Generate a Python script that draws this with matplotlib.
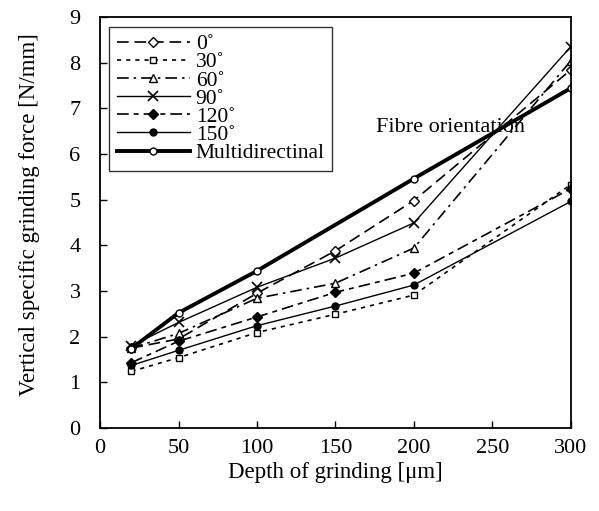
import matplotlib
matplotlib.use("Agg")
import matplotlib.pyplot as plt

x = [20, 50, 100, 150, 200, 300]
x_multi = [20, 50, 100, 200, 300]

deg0 = [1.75, 1.95, 2.95, 3.88, 4.98, 7.84]
deg30 = [1.24, 1.54, 2.09, 2.49, 2.91, 5.33]
deg60 = [1.75, 2.07, 2.84, 3.17, 3.94, 8.04]
deg90 = [1.80, 2.31, 3.08, 3.72, 4.49, 8.35]
deg120 = [1.43, 1.90, 2.43, 2.97, 3.39, 5.24]
deg150 = [1.37, 1.70, 2.24, 2.67, 3.13, 4.96]
multi = [1.74, 2.52, 3.44, 5.46, 7.44]

labels = ["0˚", "30˚", "60˚", "90˚", "120˚", "150˚", "Multidirectinal"]
xticks = [0, 50, 100, 150, 200, 250, 300]
yticks = [0, 1, 2, 3, 4, 5, 6, 7, 8, 9]

plt.rcParams['font.family'] = ['Liberation Serif', 'DejaVu Serif']

fig = plt.figure(figsize=(5.99, 5.11), dpi=100)
ax = fig.add_axes([0.167, 0.1624, 0.786, 0.8046])

k = dict(color='black', markeredgecolor='black')
ax.plot(x, deg0, linestyle=(0, (7, 3.5)), lw=1.2, marker='D', ms=5, mfc='white', label=labels[0], **k)
ax.plot(x, deg30, linestyle=(0, (2.5, 3)), lw=1.2, marker='s', ms=5, mfc='white', label=labels[1], **k)
ax.plot(x, deg60, linestyle=(0, (7, 3, 1.5, 3)), lw=1.2, marker='^', ms=6, mfc='white', label=labels[2], **k)
ax.plot(x, deg90, linestyle='-', lw=1.0, marker='x', ms=7, mew=1.2, label=labels[3], **k)
ax.plot(x, deg120, linestyle=(0, (7, 3, 3, 3)), lw=1.2, marker='D', ms=5, mfc='black', label=labels[4], **k)
ax.plot(x, deg150, linestyle='-', lw=1.0, marker='o', ms=5, mfc='black', label=labels[5], **k)
ax.plot(x_multi, multi, linestyle='-', lw=2.8, marker='o', ms=5, mfc='white', mew=1.0, label=labels[6], **k)

ax.set_xlim(0, 300)
ax.set_ylim(0, 9)
ax.set_xticks(xticks)
ax.set_yticks(yticks)
ax.tick_params(direction='in', length=5, width=1, labelsize=16)
ax.tick_params(axis='y', pad=14)
ax.tick_params(axis='x', pad=8)
ax.tick_params(top=False, right=False)
for s in ax.spines.values():
    s.set_linewidth(1.3)

ax.set_xlabel("Depth of grinding [μm]", fontsize=16.5, labelpad=3)
ax.set_ylabel("Vertical specific grinding force [N/mm]", fontsize=16.5, labelpad=20)
ax.yaxis.set_label_coords(-0.127, 0.52)

ax.text(176, 6.58, "Fibre orientation", fontsize=16, va='center', ha='left')

leg = ax.legend(loc='upper left', bbox_to_anchor=(0.019, 0.976), fontsize=15.5,
                handlelength=3.4, handletextpad=0.28, labelspacing=-0.09,
                borderpad=0.35, borderaxespad=0.0, fancybox=False, frameon=True,
                edgecolor='black')
leg.get_frame().set_linewidth(1.0)

fig.savefig("out.png", dpi=100)
